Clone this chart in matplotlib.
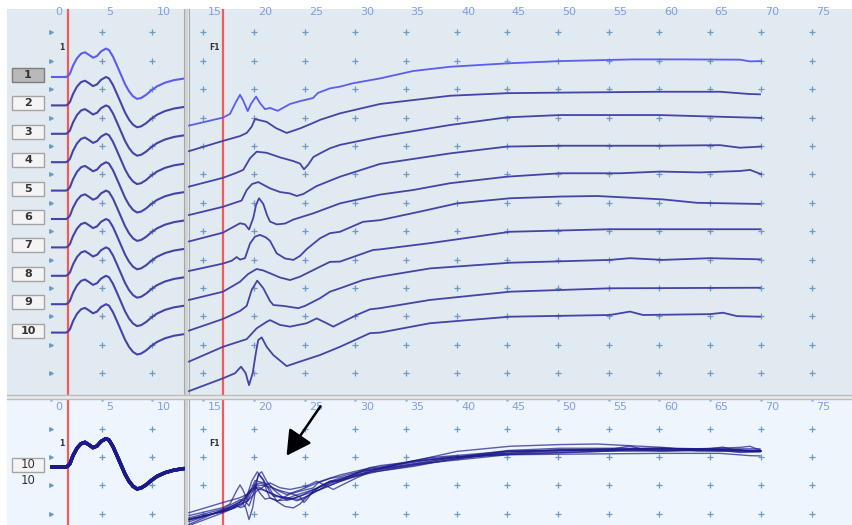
import matplotlib
matplotlib.use("Agg")
import matplotlib.pyplot as plt
from matplotlib.patches import Rectangle, FancyArrowPatch
from matplotlib.transforms import Affine2D
import numpy as np

# ---------------------------------------------------------------- data
# time axis (ms)
tick_ms = [0, 5, 10, 15, 20, 25, 30, 35, 40, 45, 50, 55, 60, 65, 70, 75]
tick_labels = [str(v) for v in tick_ms]
trace_labels = ["1", "2", "3", "4", "5", "6", "7", "8", "9", "10"]
stim_ms = 1.68        # M-wave cursor
f_cursor_ms = 16.96   # F-wave cursor

# M response (ms, divisions)
m_time = [0.1, 1.48, 1.68, 1.87, 2.17, 2.56, 2.96, 3.35, 3.75, 4.14, 4.54, 4.93,
          5.42, 5.72, 6.11, 6.51, 6.9, 7.3, 7.69, 8.09, 8.48, 8.88, 9.37, 9.86,
          10.45, 11.24, 12.13, 13.02]
m_amp = [0, 0, 0.04, 0.12, 0.4, 0.66, 0.82, 0.87, 0.78, 0.68, 0.74, 0.9,
         1.0, 0.95, 0.72, 0.4, 0.08, -0.25, -0.5, -0.68, -0.77, -0.74, -0.63, -0.48,
         -0.33, -0.2, -0.11, -0.06]

# F responses, one sweep per stimulus (ms, divisions)
t_f1 = [13.61, 16.96, 17.65, 18.24, 18.64, 18.93, 19.4, 19.72, 20.22, 20.61, 21.1, 21.6,
        22.36, 23.57, 24.56, 25.84, 26.33, 27.51, 28.5, 29.78, 32.45, 35.7, 39.35, 44.97,
        50.2, 57.4, 62.03, 67.95, 68.93, 70.02]
a_f1 = [-1.71, -1.43, -1.3, -0.88, -0.63, -0.81, -1.2, -0.95, -0.69, -0.92, -1.13, -1.09,
        -1.19, -0.95, -0.85, -0.74, -0.56, -0.4, -0.34, -0.22, -0.05, 0.21, 0.36, 0.48,
        0.56, 0.62, 0.62, 0.61, 0.55, 0.56]

t_f2 = [13.61, 16.96, 18.64, 19.3, 19.79, 20.12, 20.44, 21.27, 22.19, 23.24, 24.56, 25.84,
        26.53, 28.5, 32.45, 39.35, 44.97, 50.2, 60.06, 65.98, 68.93, 69.92]
a_f2 = [-1.61, -1.25, -1.08, -0.97, -0.75, -0.48, -0.51, -0.58, -0.8, -0.97, -0.81, -0.62,
        -0.51, -0.28, 0.05, 0.34, 0.43, 0.45, 0.48, 0.48, 0.4, 0.39]

t_f3 = [13.61, 16.96, 18.24, 18.96, 19.63, 20.28, 21.27, 22.58, 23.9, 24.56, 24.95, 25.34,
        25.87, 26.53, 27.51, 28.5, 32.45, 39.35, 44.97, 50.2, 60.06, 65.98, 70.02]
a_f3 = [-1.86, -1.55, -1.38, -1.27, -0.86, -0.63, -0.67, -0.83, -0.96, -1.05, -1.25, -1.1,
        -0.82, -0.69, -0.51, -0.39, -0.1, 0.31, 0.58, 0.66, 0.66, 0.6, 0.56]

t_f4 = [13.61, 16.96, 18.8, 19.3, 19.82, 20.44, 21.6, 22.58, 23.57, 24.23, 24.88, 26.2,
        28.5, 32.45, 39.35, 44.97, 50.2, 60.06, 65.98, 67.95, 70.02]
a_f4 = [-1.86, -1.57, -1.35, -0.98, -0.77, -0.7, -0.92, -1.05, -1.1, -1.19, -1.12, -0.84,
        -0.51, -0.06, 0.31, 0.55, 0.58, 0.58, 0.6, 0.51, 0.55]

t_f5 = [13.61, 16.96, 18.64, 19.13, 19.53, 19.95, 20.22, 20.51, 20.94, 21.3, 21.6, 22.26,
        23.08, 23.9, 25.87, 28.5, 32.45, 35.7, 39.35, 44.97, 50.2, 56.11, 60.06, 64.0,
        67.95, 68.93, 70.02]
a_f5 = [-1.79, -1.48, -1.15, -1.19, -1.37, -0.96, -0.51, -0.27, -0.47, -0.86, -1.09, -1.19,
        -1.16, -1.02, -0.8, -0.45, -0.14, 0.02, 0.26, 0.49, 0.61, 0.61, 0.67, 0.64,
        0.69, 0.73, 0.58]

t_f6 = [13.61, 16.96, 17.82, 18.31, 18.64, 19.13, 19.63, 20.12, 20.61, 21.2, 21.6, 22.26,
        23.08, 23.9, 24.56, 25.22, 26.53, 27.51, 28.5, 30.77, 32.45, 36.39, 40.04, 45.27,
        50.2, 53.85, 60.36, 63.71, 69.92]
a_f6 = [-1.83, -1.57, -1.47, -1.34, -1.43, -1.38, -0.86, -0.62, -0.56, -0.65, -0.77, -1.21,
        -1.39, -1.44, -1.3, -1.06, -0.68, -0.5, -0.45, -0.1, -0.04, 0.26, 0.55, 0.73,
        0.79, 0.81, 0.69, 0.57, 0.53]

t_f7 = [13.61, 16.96, 18.64, 19.43, 20.28, 20.91, 21.6, 22.58, 23.57, 24.56, 26.53, 27.51,
        28.5, 31.76, 32.45, 37.38, 45.27, 55.13, 69.92]
a_f7 = [-1.85, -1.56, -1.21, -0.94, -0.76, -0.81, -0.91, -1.06, -1.15, -1.03, -0.68, -0.51,
        -0.5, -0.09, -0.07, 0.15, 0.55, 0.64, 0.64]

t_f8 = [13.61, 16.96, 18.64, 19.3, 19.79, 20.34, 20.94, 21.6, 21.93, 22.92, 24.39, 25.05,
        25.87, 26.53, 27.51, 28.5, 30.77, 32.45, 37.38, 45.27, 55.13, 57.1, 60.36, 64.99,
        69.92]
a_f8 = [-1.93, -1.52, -1.24, -1.06, -0.5, -0.17, -0.44, -0.89, -1.03, -1.06, -1.14, -1.06,
        -0.91, -0.79, -0.56, -0.44, -0.15, -0.03, 0.26, 0.46, 0.56, 0.62, 0.56, 0.62,
        0.58]

t_f9 = [13.61, 16.96, 19.3, 20.28, 21.27, 21.6, 22.58, 23.57, 25.22, 26.2, 27.19, 27.84,
        28.5, 30.15, 31.46, 32.45, 37.38, 45.27, 55.13, 69.92]
a_f9 = [-2.02, -1.5, -1.23, -0.85, -0.62, -0.56, -0.73, -0.79, -0.67, -0.5, -0.67, -0.79,
        -0.67, -0.38, -0.18, -0.14, 0.15, 0.44, 0.56, 0.58]

t_f10 = [13.61, 16.96, 18.15, 18.74, 19.2, 19.53, 19.89, 20.22, 20.44, 20.78, 21.27, 21.92,
         23.24, 24.56, 26.53, 28.5, 31.46, 32.45, 37.38, 45.27, 55.13, 57.1, 58.38, 64.99,
         66.27, 67.65, 69.92]
a_f10 = [-2.06, -1.61, -1.43, -1.2, -1.43, -1.85, -1.43, -0.68, -0.26, -0.17, -0.5, -0.79,
         -1.18, -1.02, -0.79, -0.5, -0.02, 0.0, 0.33, 0.56, 0.62, 0.74, 0.62, 0.65,
         0.7, 0.58, 0.56]

f_times = [t_f1, t_f2, t_f3, t_f4, t_f5, t_f6, t_f7, t_f8, t_f9, t_f10]
f_amps = [a_f1, a_f2, a_f3, a_f4, a_f5, a_f6, a_f7, a_f8, a_f9, a_f10]

# ---------------------------------------------------------------- layout
W, H = 853, 525
X0, XS = 51.0, 10.14      # pixel of 0 ms, pixels per ms
DY = 28.4                 # pixels per vertical division

fig = plt.figure(figsize=(W / 100, H / 100), dpi=100)
fig.patch.set_facecolor("white")
px = Affine2D().scale(1 / W, -1 / H).translate(0, 1) + fig.transFigure


def to_ms(p):
    return (p - X0) / XS


def make_axes(top, bottom, row0, face):
    ax = fig.add_axes([7 / W, 1 - bottom / H, (W - 7) / W, (bottom - top) / H])
    ax.set_xlim(to_ms(7), to_ms(W))
    ax.set_ylim(-(bottom - row0) / DY, (row0 - top) / DY)
    ax.set_facecolor(face)
    ax.set_xticks([])
    ax.set_yticks([])
    for s in ax.spines.values():
        s.set_visible(False)
    return ax


def decorate(ax, n_rows, label_y, with_ticks):
    for c, lab in zip(tick_ms, tick_labels):
        ys = [-r for r in range(n_rows)]
        mk = ">" if c == 0 else "+"
        ax.plot([c] * n_rows, ys, linestyle="none", marker=mk,
                ms=2.6 if c == 0 else 4.2, mew=0.9, color="#6b9bc4", zorder=1)
        ax.text(c + 0.45, label_y, lab, color="#7f9ee8", fontsize=8,
                ha="left", va="center", zorder=1)
    if with_ticks:
        ax.plot(tick_ms, [label_y + 0.27] * len(tick_ms), linestyle="none",
                marker="v", ms=3, color="#9db6e6", zorder=1)
    # split between M and F windows
    ax.axvspan(to_ms(183.5), to_ms(188.5), color="#d3d3d3", zorder=2, lw=0)
    ax.axvline(to_ms(183.5), color="#a8a8a8", lw=0.8, zorder=2)
    ax.axvline(to_ms(188.5), color="#a8a8a8", lw=0.8, zorder=2)
    # cursors
    ax.axvline(stim_ms, color="#f25b5b", lw=1.6, zorder=3)
    ax.axvline(f_cursor_ms, color="#f25b5b", lw=1.6, zorder=3)


# top panel: individual sweeps
ax_top = make_axes(9, 394.5, 32.5, "#e1e9f1")
decorate(ax_top, 13, -(12 - 32.5) / DY, False)
base_top = -(77 - 32.5) / DY
m_a = np.array(m_amp)
for k in range(10):
    off = base_top - k
    col = "#5b5cf0" if k == 0 else "#4643a6"
    ax_top.plot(m_time, m_a + off, color=col, lw=1.5, zorder=4,
                solid_joinstyle="round")
    ax_top.plot(f_times[k], np.array(f_amps[k]) + off, color=col, lw=1.3,
                zorder=4, solid_joinstyle="round")

# bottom panel: superimposed sweeps
ax_low = make_axes(399.5, 525, 428.5, "#eef5fc")
decorate(ax_low, 4, -(407 - 428.5) / DY, True)
base_low = -(467 - 428.5) / DY
for k in range(10):
    ax_low.plot(m_time, m_a + base_low, color="#1c1a8a", lw=2.4, alpha=0.6,
                zorder=4, solid_joinstyle="round")
    ax_low.plot(f_times[k], np.array(f_amps[k]) + base_low, color="#1c1a8a",
                lw=1.0, alpha=0.7, zorder=4, solid_joinstyle="round")

# separator between panels
fig.add_artist(Rectangle((7, 394.5), W - 7, 5, transform=px,
                         facecolor="#e7e9eb", edgecolor="none"))
for yy in (395.3, 398.8):
    fig.add_artist(plt.Line2D([7, W], [yy, yy], transform=px,
                              color="#bdbdbd", lw=1.0))

# sweep selector boxes
for k, lab in enumerate(trace_labels):
    yc = 75 + DY * k
    sel = k == 0
    fig.add_artist(Rectangle((12, yc - 7), 32, 14, transform=px,
                             facecolor="#b9b9b9" if sel else "#f4f4f4",
                             edgecolor="#7c7c7c" if sel else "#a4a4a4", lw=1))
    fig.text(28, yc, lab, transform=px, ha="center", va="center",
             fontsize=8, fontweight="bold", color="#333333")

fig.add_artist(Rectangle((12, 458), 32, 14, transform=px,
                         facecolor="#f4f4f4", edgecolor="#a4a4a4", lw=1))
fig.text(28, 465, "10", transform=px, ha="center", va="center",
         fontsize=8.5, color="#333333")
fig.text(28, 481, "10", transform=px, ha="center", va="center",
         fontsize=8.5, color="#333333")

# window captions
for yy in (48, 443):
    fig.text(62, yy, "1", transform=px, ha="center", va="center",
             fontsize=5.5, fontweight="bold", color="#333333")
    fig.text(215, yy, "F1", transform=px, ha="center", va="center",
             fontsize=5.5, fontweight="bold", color="#333333")

# pointer to the F-wave cluster
fig.add_artist(FancyArrowPatch((322, 404), (285, 458), transform=px,
                               arrowstyle="-|>,head_length=1.0,head_width=0.55",
                               mutation_scale=15, lw=1.8, color="black"))

fig.savefig("out.png", dpi=100, facecolor="white")
